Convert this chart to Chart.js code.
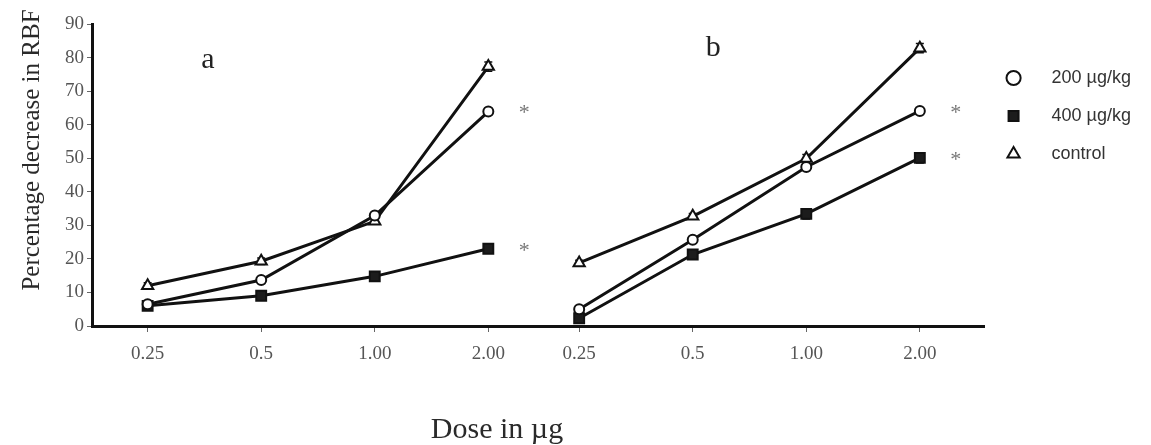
<!DOCTYPE html>
<html>
<head>
<meta charset="utf-8">
<script src="https://cdn.jsdelivr.net/npm/chart.js@4.4.1/dist/chart.umd.min.js"></script>
<style>
  html, body { margin: 0; padding: 0; background: #fff; }
  #wrap { width: 1151px; height: 445px; }
</style>
</head>
<body>
<div id="wrap"><canvas id="chart"></canvas></div>
<script>
// doses are the same in both panels
const doseLabels = ['0.25', '0.5', '1.00', '2.00'];
const seriesNames = ['200 µg/kg', '400 µg/kg', 'control'];
const yTicks = [0, 10, 20, 30, 40, 50, 60, 70, 80, 90];

// panel a
const a200 = [6.5, 13.7, 32.9, 63.9];
const a400 = [6.0, 9.0, 14.8, 23.0];
const aControl = [12.0, 19.3, 31.2, 77.3];
const a200Err = [0.5, 0.6, 0.8, 0.9];
const a400Err = [0.6, 0.6, 0.8, 0.8];
const aControlErr = [0.9, 1.0, 0.9, 1.4];

// panel b
const b200 = [5.0, 25.7, 47.4, 64.1];
const b400 = [2.3, 21.3, 33.4, 50.1];
const bControl = [18.8, 32.7, 49.9, 82.8];
const b200Err = [0.6, 0.6, 0.8, 0.8];
const b400Err = [1.0, 0.8, 1.5, 1.5];
const bControlErr = [0.8, 0.8, 1.2, 1.4];

// which series carry a significance star (200 and 400 in both panels)
const starred = [true, true, false];

const PANEL_SHIFT = 3.8; // gap between panel a and b on the x scale
const positions = [0, 1].flatMap(p => doseLabels.map((_, i) => i + 1 + p * PANEL_SHIFT));

const looks = [
  { pointStyle: 'circle', radius: 5, fill: '#ffffff' },
  { pointStyle: 'rect', radius: 7, fill: '#1c1c1c' },
  { pointStyle: 'triangle', radius: 6.5, fill: '#ffffff' }
];

const makeSet = (panel, s, values, errors) => ({
  label: seriesNames[s],
  data: values.map((v, i) => ({ x: i + 1 + panel * PANEL_SHIFT, y: v })),
  errors: errors,
  star: starred[s],
  borderColor: '#111',
  borderWidth: 3,
  pointStyle: looks[s].pointStyle,
  pointRadius: looks[s].radius,
  pointHoverRadius: looks[s].radius,
  pointBackgroundColor: looks[s].fill,
  pointBorderColor: '#111',
  pointBorderWidth: 2,
  tension: 0
});

const datasets = [
  makeSet(0, 0, a200, a200Err),
  makeSet(0, 1, a400, a400Err),
  makeSet(0, 2, aControl, aControlErr),
  makeSet(1, 0, b200, b200Err),
  makeSet(1, 1, b400, b400Err),
  makeSet(1, 2, bControl, bControlErr)
];

const serif = 'Liberation Serif, Times New Roman, serif';

// small vertical error bars with caps
const errorBars = {
  id: 'errorBars',
  beforeDatasetsDraw(chart) {
    const { ctx, scales: { x, y } } = chart;
    ctx.save();
    ctx.strokeStyle = '#111';
    ctx.lineWidth = 1.5;
    chart.data.datasets.forEach(ds => {
      ds.data.forEach((p, i) => {
        const e = ds.errors[i];
        const px = x.getPixelForValue(p.x);
        const top = y.getPixelForValue(p.y + e);
        const bot = y.getPixelForValue(p.y - e);
        ctx.beginPath();
        ctx.moveTo(px, top); ctx.lineTo(px, bot);
        ctx.moveTo(px - 4, top); ctx.lineTo(px + 4, top);
        ctx.moveTo(px - 4, bot); ctx.lineTo(px + 4, bot);
        ctx.stroke();
      });
    });
    ctx.restore();
  }
};

// panel letters, stars and axis titles
const annotations = {
  id: 'annotations',
  afterDraw(chart) {
    const { ctx, chartArea, scales: { x, y } } = chart;
    ctx.save();
    ctx.fillStyle = '#222';
    ctx.font = '30px ' + serif;
    ctx.textAlign = 'center';
    ctx.textBaseline = 'alphabetic';
    ctx.fillText('a', x.getPixelForValue(1.53), y.getPixelForValue(77));
    ctx.fillText('b', x.getPixelForValue(1.53 + PANEL_SHIFT + 0.65), y.getPixelForValue(80.5));

    // significance stars
    ctx.fillStyle = '#777';
    ctx.font = '22px ' + serif;
    ctx.textBaseline = 'middle';
    chart.data.datasets.forEach(ds => {
      if (!ds.star) return;
      const last = ds.data[ds.data.length - 1];
      ctx.fillText('*', x.getPixelForValue(last.x) + 36, y.getPixelForValue(last.y) + 2);
    });

    // axis titles
    ctx.fillStyle = '#2a2a2a';
    ctx.font = '30px ' + serif;
    ctx.textBaseline = 'alphabetic';
    ctx.fillText('Dose in µg', chartArea.left + 405, chartArea.bottom + 112);

    ctx.translate(39, 150);
    ctx.rotate(-Math.PI / 2);
    ctx.font = '25px ' + serif;
    ctx.fillText('Percentage decrease in RBF', 0, 0);
    ctx.restore();
  }
};

new Chart(document.getElementById('chart'), {
  type: 'line',
  data: { datasets },
  options: {
    responsive: true,
    maintainAspectRatio: false,
    animation: false,
    layout: { padding: { left: 32, top: 24, right: 0, bottom: 79 } },
    plugins: {
      tooltip: { enabled: false },
      legend: {
        position: 'right',
        align: 'start',
        title: { display: true, text: '', padding: { top: 13, bottom: 0 }, font: { size: 10 } },
        labels: {
          usePointStyle: true,
          boxHeight: 10,
          padding: 20,
          color: '#333',
          font: { family: 'Liberation Sans, Arial, sans-serif', size: 18 },
          filter: item => item.datasetIndex < 3,
          generateLabels: chart => Chart.defaults.plugins.legend.labels.generateLabels(chart)
            .map(item => ({ ...item, text: '    ' + item.text + '  ' }))
        }
      }
    },
    scales: {
      x: {
        type: 'linear',
        min: 0.51,
        max: 8.37,
        afterBuildTicks: scale => { scale.ticks = positions.map(v => ({ value: v })); },
        afterFit: scale => { scale.height = 40; },
        ticks: {
          autoSkip: false,
          maxRotation: 0,
          padding: 11,
          color: '#555',
          font: { family: serif, size: 19 },
          callback: (value, index) => doseLabels[index % doseLabels.length]
        },
        grid: { drawOnChartArea: false, drawTicks: true, tickLength: 6, color: '#666' },
        border: { display: true, width: 3, color: '#111' }
      },
      y: {
        min: 0,
        max: 90,
        afterBuildTicks: scale => { scale.ticks = yTicks.map(v => ({ value: v })); },
        afterFit: scale => { scale.width = 60; },
        ticks: {
          padding: 3,
          color: '#555',
          font: { family: serif, size: 19 }
        },
        grid: { drawOnChartArea: false, drawTicks: true, tickLength: 5, color: '#666' },
        border: { display: true, width: 3, color: '#111' }
      }
    }
  },
  plugins: [errorBars, annotations]
});
</script>
</body>
</html>
